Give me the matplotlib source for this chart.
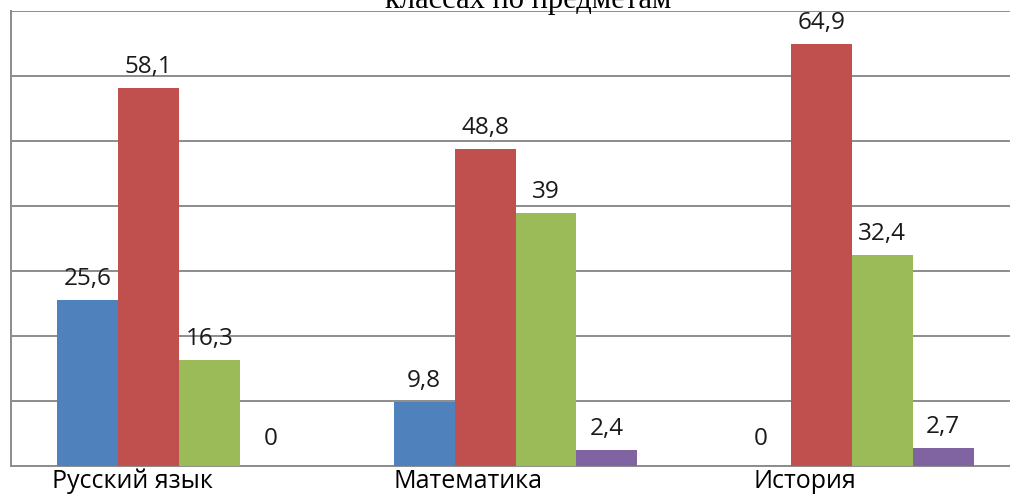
import numpy as np
import matplotlib
matplotlib.use("Agg")
import matplotlib.pyplot as plt

# data
subjects = ["Русский язык", "Математика", "История"]
series_1 = [25.6, 9.8, 0]
series_2 = [58.1, 48.8, 64.9]
series_3 = [16.3, 39, 32.4]
series_4 = [0, 2.4, 2.7]
value_labels = [["25,6", "9,8", "0"],
                ["58,1", "48,8", "64,9"],
                ["16,3", "39", "32,4"],
                ["0", "2,4", "2,7"]]
colors = ["#4F81BD", "#C0504D", "#9BBB59", "#8064A2"]

plt.rcParams['font.family'] = ['Open Sans', 'DejaVu Sans']

fig = plt.figure(figsize=(10.1, 4.96), dpi=100)
ax = fig.add_axes([11 / 1010, 1 - 466 / 496, 1009 / 1010, 455 / 496])

x = np.arange(len(subjects))
width = 0.181
all_series = [series_1, series_2, series_3, series_4]
for i, vals in enumerate(all_series):
    pos = x + (i - 1.5) * width
    ax.bar(pos, vals, width, color=colors[i], zorder=3)
    for px, v, lab in zip(pos, vals, value_labels[i]):
        off = 27 if v == 0 else 21
        ax.annotate(lab, (px, v), xytext=(0, off * 0.72), textcoords="offset points",
                    ha="center", va="center", fontsize=17.5, color="#1a1a1a", zorder=4)

ax.set_xlim(-0.5, 2.5)
ax.set_ylim(0, 70)
ax.set_yticks(np.arange(0, 71, 10))
ax.set_yticklabels([])
ax.tick_params(axis="y", length=0)
ax.grid(axis="y", color="#8c8c8c", linewidth=1.4, zorder=0)

ax.set_xticks(x - 0.14)
ax.set_xticklabels(subjects, fontsize=18)
ax.tick_params(axis="x", length=0, pad=2)

for s in ["top", "right"]:
    ax.spines[s].set_visible(False)
ax.spines["left"].set_color("#8c8c8c")
ax.spines["left"].set_linewidth(1.4)
ax.spines["bottom"].set_color("#8c8c8c")
ax.spines["bottom"].set_linewidth(1.4)

fig.text(528 / 1010, 1 - 8 / 496, "классах по предметам", ha="center", va="baseline",
         fontsize=22, family=["Liberation Serif", "DejaVu Serif"])

fig.savefig("out.png", dpi=100)
